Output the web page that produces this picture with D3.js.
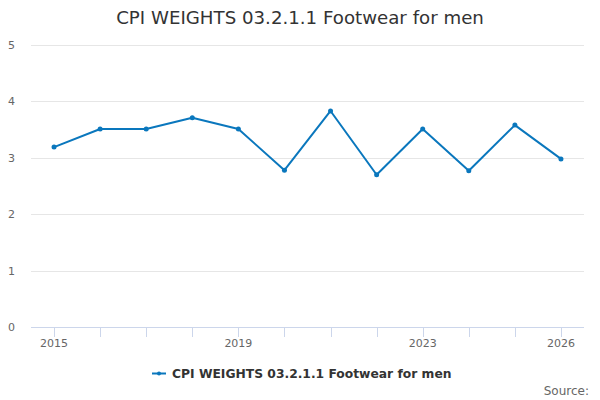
<!DOCTYPE html>
<html>
<head>
<meta charset="utf-8">
<script src="https://cdn.jsdelivr.net/npm/d3@7"></script>
<style>
  body { margin: 0; background: #fff; }
  svg { font-family: "DejaVu Sans", sans-serif; display: block; }
</style>
</head>
<body>
<svg id="chart"></svg>
<script>
const width = 600;
const height = 400;

// Data
const years = ["2015", "2016", "2017", "2018", "2019", "2020", "2021", "2022", "2023", "2024", "2025", "2026"];
const weights = [3.19, 3.51, 3.51, 3.71, 3.51, 2.78, 3.83, 2.70, 3.51, 2.77, 3.58, 2.98];
const yTicks = [0, 1, 2, 3, 4, 5];
const shownYears = ["2015", "2019", "2023", "2026"];
const seriesName = "CPI WEIGHTS 03.2.1.1 Footwear for men";

const color = "#0a77bd";
const plot = { left: 31, right: 584, top: 45, bottom: 327 };

const svg = d3.select("#chart")
    .attr("width", width)
    .attr("height", height);

// Title
svg.append("text")
    .attr("x", width / 2)
    .attr("y", 24)
    .attr("text-anchor", "middle")
    .attr("fill", "#333")
    .attr("font-size", 18.2)
    .text(seriesName);

// Scales
const x = d3.scaleBand()
    .domain(years)
    .range([plot.left, plot.right]);

const y = d3.scaleLinear()
    .domain([0, 5])
    .range([plot.bottom, plot.top]);

const cx = d => x(d) + x.bandwidth() / 2;

// Gridlines
svg.append("g")
    .selectAll("line")
    .data(yTicks.filter(t => t > 0))
    .enter().append("line")
    .attr("x1", plot.left)
    .attr("x2", plot.right)
    .attr("y1", d => Math.round(y(d)) + 0.5)
    .attr("y2", d => Math.round(y(d)) + 0.5)
    .attr("stroke", "#e6e6e6");

// Y labels
svg.append("g")
    .selectAll("text")
    .data(yTicks)
    .enter().append("text")
    .attr("x", 15)
    .attr("y", d => y(d) + 4)
    .attr("text-anchor", "end")
    .attr("fill", "#666")
    .attr("font-size", 11)
    .text(d => d);

// X axis line + ticks
svg.append("line")
    .attr("x1", plot.left)
    .attr("x2", plot.right)
    .attr("y1", plot.bottom + 0.5)
    .attr("y2", plot.bottom + 0.5)
    .attr("stroke", "#ccd6eb");

svg.append("g")
    .selectAll("line")
    .data(years)
    .enter().append("line")
    .attr("x1", d => Math.round(cx(d)) + 0.5)
    .attr("x2", d => Math.round(cx(d)) + 0.5)
    .attr("y1", plot.bottom)
    .attr("y2", plot.bottom + 10)
    .attr("stroke", "#ccd6eb");

svg.append("g")
    .selectAll("text")
    .data(shownYears)
    .enter().append("text")
    .attr("x", d => cx(d))
    .attr("y", plot.bottom + 20)
    .attr("text-anchor", "middle")
    .attr("fill", "#666")
    .attr("font-size", 11)
    .text(d => d);

// Line series
const line = d3.line()
    .x((d, i) => cx(years[i]))
    .y(d => y(d));

svg.append("path")
    .datum(weights)
    .attr("fill", "none")
    .attr("stroke", color)
    .attr("stroke-width", 2)
    .attr("stroke-linejoin", "round")
    .attr("d", line);

svg.append("g")
    .selectAll("circle")
    .data(weights)
    .enter().append("circle")
    .attr("cx", (d, i) => cx(years[i]))
    .attr("cy", d => y(d))
    .attr("r", 2.5)
    .attr("fill", color);

// Legend
const legend = svg.append("g").attr("transform", "translate(152,373)");
legend.append("line")
    .attr("x1", 0).attr("x2", 14)
    .attr("y1", 0.5).attr("y2", 0.5)
    .attr("stroke", color)
    .attr("stroke-width", 2);
legend.append("circle")
    .attr("cx", 7).attr("cy", 0.5).attr("r", 2)
    .attr("fill", color);
legend.append("text")
    .attr("x", 20)
    .attr("y", 5)
    .attr("fill", "#333")
    .attr("font-size", 12.3)
    .attr("font-weight", "bold")
    .text(seriesName);

// Credits
svg.append("text")
    .attr("x", 589)
    .attr("y", 395)
    .attr("text-anchor", "end")
    .attr("fill", "#666")
    .attr("font-size", 12)
    .text("Source:");
</script>
</body>
</html>
